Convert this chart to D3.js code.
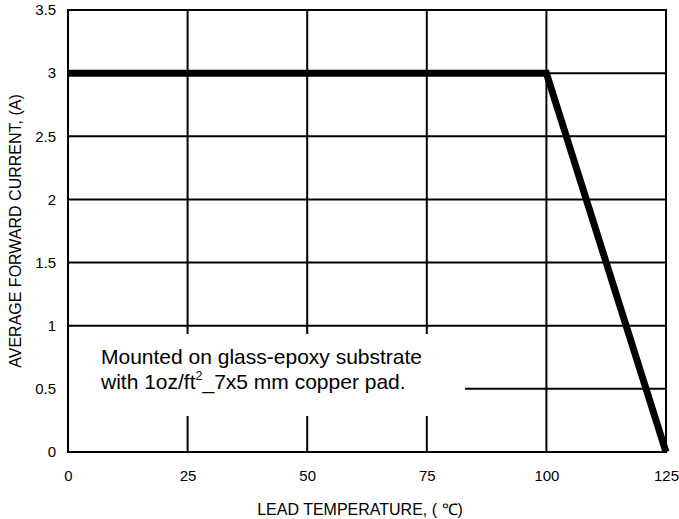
<!DOCTYPE html>
<html>
<head>
<meta charset="utf-8">
<script src="https://cdn.jsdelivr.net/npm/d3@7"></script>
<style>
  body { margin: 0; background: #fff; }
  svg text { font-family: "Liberation Sans", Arial, sans-serif; fill: #000; }
</style>
</head>
<body>
<svg id="chart" width="679" height="519"></svg>
<script>
const temps = [0, 100, 125];
const currents = [3, 3, 0];
const xTicks = [0, 25, 50, 75, 100, 125];
const yTicks = [0, 0.5, 1, 1.5, 2, 2.5, 3, 3.5];
const noteLines = ["Mounted on glass-epoxy substrate", "with 1oz/ft", "2", "_7x5 mm copper pad."];

const margin = { left: 68, right: 13, top: 10, bottom: 67 };
const width = 679 - margin.left - margin.right;
const height = 519 - margin.top - margin.bottom;

const svg = d3.select("#chart");
const g = svg.append("g").attr("transform", `translate(${margin.left},${margin.top})`);

const x = d3.scaleLinear().domain([0, 125]).range([0, width]);
const y = d3.scaleLinear().domain([0, 3.5]).range([height, 0]);

// grid
g.selectAll(".vgrid")
  .data(xTicks.slice(1, -1))
  .enter()
  .append("line")
  .attr("x1", d => x(d)).attr("x2", d => x(d))
  .attr("y1", 0).attr("y2", height)
  .attr("stroke", "#000").attr("stroke-width", 2);

g.selectAll(".hgrid")
  .data(yTicks.slice(1, -1))
  .enter()
  .append("line")
  .attr("x1", 0).attr("x2", width)
  .attr("y1", d => y(d)).attr("y2", d => y(d))
  .attr("stroke", "#000").attr("stroke-width", 2);

// blank area behind the note
g.append("rect")
  .attr("x", 1).attr("y", 324)
  .attr("width", 396).attr("height", 82)
  .attr("fill", "#fff");

// frame
g.append("rect")
  .attr("width", width).attr("height", height)
  .attr("fill", "none").attr("stroke", "#000").attr("stroke-width", 2);

// derating curve
const line = d3.line().x((d, i) => x(temps[i])).y(d => y(d));
g.append("path")
  .attr("d", line(currents))
  .attr("fill", "none")
  .attr("stroke", "#000")
  .attr("stroke-width", 7)
  .attr("stroke-linejoin", "miter");

// tick labels
const xAxis = d3.axisBottom(x).tickValues(xTicks).tickSize(0).tickPadding(18);
g.append("g").attr("transform", `translate(0,${height})`).call(xAxis)
  .call(a => a.select(".domain").remove())
  .selectAll("text").style("font-size", "15px");

const yAxis = d3.axisLeft(y).tickValues(yTicks).tickSize(0).tickPadding(12)
  .tickFormat(d3.format("~g"));
g.append("g").call(yAxis)
  .call(a => a.select(".domain").remove())
  .selectAll("text").style("font-size", "15px");

// axis titles
svg.append("text")
  .attr("x", 360).attr("y", 515)
  .attr("text-anchor", "middle")
  .style("font-size", "16px")
  .text("LEAD TEMPERATURE, ( ℃)");

svg.append("text")
  .attr("transform", "rotate(-90)")
  .attr("x", -231)
  .attr("y", 21)
  .attr("text-anchor", "middle")
  .style("font-size", "16px")
  .text("AVERAGE FORWARD CURRENT, (A)");

// note
const l1 = g.append("text").attr("x", 33).attr("y", 354).style("font-size", "21px");
l1.append("tspan").text(noteLines[0]);
const l2 = g.append("text").attr("x", 33).attr("y", 379).style("font-size", "21px");
l2.append("tspan").text(noteLines[1]);
l2.append("tspan").attr("dy", -9).style("font-size", "12.5px").text(noteLines[2]);
l2.append("tspan").attr("dy", 9).text(noteLines[3]);
</script>
</body>
</html>
